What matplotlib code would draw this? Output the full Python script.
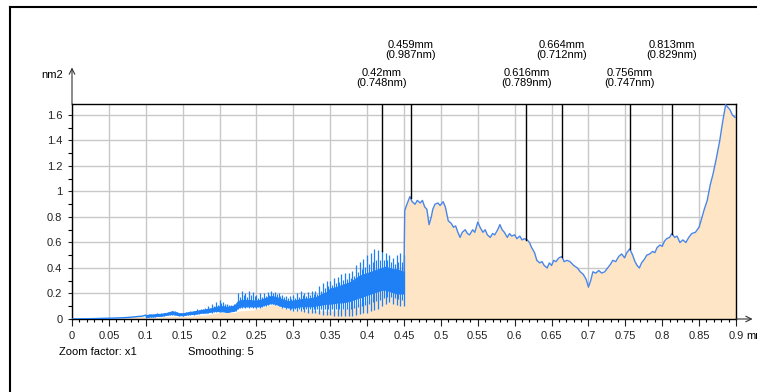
# -*- coding: utf-8 -*-
import numpy as np
import matplotlib
matplotlib.use("Agg")
import matplotlib.pyplot as plt
from matplotlib.lines import Line2D
from matplotlib.ticker import MultipleLocator, FuncFormatter

plt.rcParams['font.family'] = ['Liberation Sans', 'DejaVu Sans']
fs = 8

# ---- data ----
# left, quiet part of the profile
x_left = [0.0, 0.01, 0.02, 0.03, 0.04, 0.05, 0.06, 0.07, 0.08, 0.09, 0.095]
y_left = [0.0, 0.001, 0.002, 0.003, 0.005, 0.006, 0.008, 0.01, 0.014, 0.02, 0.022]

# noisy part 0.10 .. 0.45, one row every 0.005
x_noise = np.round(np.arange(0.100, 0.4501, 0.005), 3)
core_lo = [0.015, 0.02, 0.02, 0.025, 0.025, 0.03, 0.035, 0.04, 0.035, 0.03,
           0.03, 0.035, 0.04, 0.04, 0.045, 0.05, 0.05, 0.055, 0.06, 0.065,
           0.06, 0.06, 0.055, 0.06, 0.065, 0.09, 0.1, 0.1, 0.1, 0.1,
           0.1, 0.1, 0.11, 0.12, 0.125, 0.12, 0.11, 0.1, 0.095, 0.09,
           0.09, 0.095, 0.1, 0.1, 0.1, 0.1, 0.105, 0.11, 0.115, 0.12,
           0.12, 0.125, 0.13, 0.13, 0.135, 0.14, 0.15, 0.16, 0.17, 0.18,
           0.19, 0.2, 0.21, 0.22, 0.23, 0.23, 0.22, 0.21, 0.2, 0.2, 0.2]
core_hi = [0.03, 0.035, 0.035, 0.04, 0.04, 0.045, 0.05, 0.06, 0.055, 0.045,
           0.045, 0.05, 0.055, 0.06, 0.065, 0.07, 0.075, 0.08, 0.085, 0.095,
           0.1, 0.1, 0.095, 0.1, 0.105, 0.14, 0.15, 0.15, 0.15, 0.145,
           0.145, 0.15, 0.16, 0.17, 0.18, 0.175, 0.165, 0.155, 0.145, 0.14,
           0.145, 0.15, 0.155, 0.16, 0.16, 0.165, 0.17, 0.185, 0.2, 0.21,
           0.24, 0.245, 0.255, 0.265, 0.275, 0.285, 0.3, 0.32, 0.34, 0.35,
           0.36, 0.37, 0.38, 0.39, 0.4, 0.41, 0.4, 0.39, 0.39, 0.38, 0.37]
spike_lo = [0.01, 0.015, 0.015, 0.02, 0.02, 0.025, 0.03, 0.035, 0.03, 0.025,
            0.025, 0.03, 0.035, 0.035, 0.04, 0.045, 0.045, 0.05, 0.05, 0.055,
            0.06, 0.06, 0.055, 0.06, 0.065, 0.08, 0.09, 0.09, 0.09, 0.09,
            0.09, 0.09, 0.1, 0.11, 0.115, 0.11, 0.1, 0.09, 0.08, 0.07,
            0.06, 0.06, 0.06, 0.055, 0.05, 0.05, 0.045, 0.04, 0.035, 0.03,
            0.03, 0.025, 0.02, 0.02, 0.02, 0.02, 0.025, 0.03, 0.04, 0.045,
            0.05, 0.06, 0.07, 0.08, 0.1, 0.12, 0.13, 0.12, 0.11, 0.1, 0.1]
spike_hi = [0.035, 0.04, 0.04, 0.045, 0.045, 0.05, 0.055, 0.065, 0.06, 0.05,
            0.05, 0.055, 0.06, 0.065, 0.075, 0.08, 0.085, 0.1, 0.12, 0.13,
            0.15, 0.13, 0.12, 0.11, 0.12, 0.2, 0.22, 0.2, 0.22, 0.21,
            0.19, 0.2, 0.2, 0.21, 0.22, 0.21, 0.2, 0.19, 0.18, 0.18,
            0.19, 0.2, 0.22, 0.2, 0.21, 0.22, 0.22, 0.26, 0.28, 0.3,
            0.3, 0.32, 0.33, 0.35, 0.36, 0.36, 0.38, 0.42, 0.45, 0.47,
            0.5, 0.52, 0.55, 0.54, 0.53, 0.52, 0.5, 0.48, 0.5, 0.52, 0.5]
fill_noise = [0.01, 0.012, 0.012, 0.015, 0.015, 0.018, 0.02, 0.022, 0.02, 0.018,
              0.018, 0.02, 0.022, 0.025, 0.028, 0.03, 0.03, 0.035, 0.04, 0.045,
              0.05, 0.05, 0.05, 0.05, 0.05, 0.06, 0.065, 0.065, 0.07, 0.07,
              0.075, 0.085, 0.095, 0.105, 0.115, 0.11, 0.1, 0.09, 0.08, 0.075,
              0.07, 0.07, 0.07, 0.07, 0.07, 0.07, 0.065, 0.065, 0.065, 0.06,
              0.06, 0.065, 0.07, 0.075, 0.08, 0.09, 0.1, 0.11, 0.12, 0.13,
              0.14, 0.16, 0.2, 0.25, 0.3, 0.33, 0.32, 0.27, 0.22, 0.18, 0.15]

# right part after the step at 0.45
x_right = [0.451, 0.454, 0.458, 0.461, 0.465, 0.468, 0.472, 0.475, 0.478, 0.481,
           0.484, 0.487, 0.489, 0.492, 0.496, 0.499, 0.503, 0.506, 0.510, 0.514,
           0.517, 0.520, 0.523, 0.526, 0.529, 0.533, 0.536, 0.539, 0.543, 0.546,
           0.550, 0.553, 0.557, 0.560, 0.563, 0.567, 0.570, 0.573, 0.577, 0.580,
           0.583, 0.586, 0.590, 0.593, 0.596, 0.600, 0.603, 0.607, 0.610, 0.613,
           0.617, 0.620, 0.623, 0.627, 0.630, 0.634, 0.637, 0.640, 0.644, 0.647,
           0.650, 0.653, 0.656, 0.660, 0.664, 0.667, 0.671, 0.675, 0.680, 0.685,
           0.689, 0.693, 0.697, 0.700, 0.703, 0.706, 0.710, 0.714, 0.718, 0.722,
           0.726, 0.730, 0.733, 0.737, 0.741, 0.745, 0.749, 0.752, 0.756, 0.760,
           0.763, 0.766, 0.769, 0.772, 0.776, 0.779, 0.783, 0.787, 0.790, 0.793,
           0.797, 0.800, 0.803, 0.806, 0.810, 0.813, 0.817, 0.820, 0.824, 0.828,
           0.832, 0.836, 0.840, 0.845, 0.850, 0.853, 0.857, 0.861, 0.865, 0.869,
           0.873, 0.878, 0.882, 0.886, 0.889, 0.892, 0.895, 0.899, 0.900]
y_right = [0.85, 0.90, 0.96, 0.92, 0.90, 0.93, 0.91, 0.93, 0.88, 0.86,
           0.74, 0.80, 0.86, 0.90, 0.91, 0.89, 0.92, 0.88, 0.77, 0.75,
           0.72, 0.73, 0.68, 0.64, 0.68, 0.70, 0.67, 0.66, 0.70, 0.68,
           0.76, 0.72, 0.68, 0.70, 0.66, 0.64, 0.67, 0.66, 0.70, 0.74,
           0.70, 0.68, 0.64, 0.67, 0.65, 0.66, 0.63, 0.65, 0.62, 0.63,
           0.62, 0.60, 0.56, 0.52, 0.46, 0.44, 0.45, 0.42, 0.40, 0.44,
           0.42, 0.46, 0.45, 0.48, 0.49, 0.45, 0.46, 0.45, 0.42, 0.40,
           0.37, 0.35, 0.31, 0.25, 0.30, 0.37, 0.36, 0.38, 0.36, 0.37,
           0.40, 0.43, 0.46, 0.45, 0.49, 0.51, 0.48, 0.52, 0.55, 0.50,
           0.45, 0.42, 0.40, 0.44, 0.47, 0.50, 0.51, 0.53, 0.52, 0.56,
           0.58, 0.57, 0.61, 0.63, 0.64, 0.67, 0.64, 0.65, 0.60, 0.62,
           0.60, 0.64, 0.67, 0.68, 0.72, 0.78, 0.86, 0.93, 1.05, 1.14,
           1.25, 1.40, 1.55, 1.68, 1.66, 1.64, 1.60, 1.58, 1.58]

# cursor markers
mark_mm = [0.42, 0.459, 0.616, 0.664, 0.756, 0.813]
mark_nm = ['0.748', '0.987', '0.789', '0.712', '0.747', '0.829']
mark_high = [False, True, False, True, False, True]

# ---- drawing ----
fig = plt.figure(figsize=(7.57, 3.92), dpi=100)
ax = fig.add_axes([72 / 757, 1 - 319 / 392, 664 / 757, 215 / 392])
ax.set_xlim(0, 0.9)
ax.set_ylim(0, 1.686)

fill_x = np.concatenate([x_left, x_noise, x_right])
fill_y = np.concatenate([y_left, fill_noise, y_right])
ax.fill_between(fill_x, 0, fill_y, color='#fde5c5', lw=0, zorder=2)

blue = '#1f80f5'
ax.plot(np.concatenate([x_left, x_noise[:1]]), np.concatenate([y_left, core_hi[:1]]),
        color=blue, lw=1, zorder=3)
ax.fill_between(x_noise, core_lo, core_hi, color=blue, lw=0.8, edgecolor=blue, zorder=3)
ax.vlines(x_noise, spike_lo, spike_hi, color=blue, lw=0.9, zorder=3)
ax.vlines(x_noise[:-1] + 0.0025,
          (np.array(core_lo[:-1]) + np.array(spike_lo[:-1])) / 2,
          (np.array(core_hi[:-1]) + np.array(spike_hi[:-1])) / 2,
          color=blue, lw=0.8, zorder=3)
ax.plot(np.concatenate([[x_noise[-1]], x_right]),
        np.concatenate([[core_hi[-1]], y_right]),
        color='#4a86e8', lw=1, zorder=3)

# cursor lines and their labels
top_x = np.concatenate([x_left, x_noise, x_right])
top_y = np.concatenate([y_left, spike_hi, y_right])
for mm, nm, high in zip(mark_mm, mark_nm, mark_high):
    ybot = np.interp(mm, top_x, top_y)
    ax.plot([mm, mm], [ybot, 1.686], color='black', lw=1, zorder=4)
    ax.text(mm, 2.03 if high else 1.81, f'{mm:g}mm\n({nm}nm)', ha='center',
            va='bottom', fontsize=fs, linespacing=1.0, clip_on=False)

# grid, ticks, spines
ax.xaxis.set_major_locator(MultipleLocator(0.05))
ax.xaxis.set_minor_locator(MultipleLocator(0.01))
ax.yaxis.set_major_locator(MultipleLocator(0.2))
ax.yaxis.set_minor_locator(MultipleLocator(0.1))
fmt = FuncFormatter(lambda v, p: f'{round(v, 3):g}')
ax.xaxis.set_major_formatter(fmt)
ax.yaxis.set_major_formatter(fmt)
ax.grid(True, which='major', color='#c8c8c8', lw=1, zorder=0)
ax.set_axisbelow(True)
ax.tick_params(axis='x', which='major', length=5, width=0.8, pad=3.5, labelsize=fs, colors='#222222')
ax.tick_params(axis='x', which='minor', length=2.5, width=0.8)
ax.tick_params(axis='y', which='major', length=3, width=0.8, pad=4, labelsize=fs, colors='#222222')
ax.tick_params(axis='y', which='minor', length=3, width=0.8)
for s in ax.spines.values():
    s.set_color('black')
    s.set_linewidth(1)

# axis arrows and units
ax.annotate('', xy=(0, 1.17), xytext=(0, 1.0), xycoords='axes fraction',
            arrowprops=dict(arrowstyle='->', lw=0.8, color='#333333', shrinkA=0, shrinkB=0))
ax.annotate('', xy=(1.025, 0), xytext=(1.0, 0), xycoords='axes fraction',
            arrowprops=dict(arrowstyle='->', lw=0.8, color='#333333', shrinkA=0, shrinkB=0))
ax.text(-0.014, 1.135, 'nm2', transform=ax.transAxes, ha='right', va='center', fontsize=fs)
ax.text(1.015, -0.08, 'mm', transform=ax.transAxes, ha='left', va='center', fontsize=fs)

fig.text(59 / 757, 1 - 352 / 392, 'Zoom factor: x1', ha='left', va='center', fontsize=fs)
fig.text(188 / 757, 1 - 352 / 392, 'Smoothing: 5', ha='left', va='center', fontsize=fs)

# outer frame
fig.add_artist(Line2D([10 / 757, 1], [1 - 7 / 392] * 2, color='black', lw=1.5))
fig.add_artist(Line2D([10 / 757] * 2, [0, 1 - 7 / 392], color='black', lw=1.5))

fig.savefig('out.png', dpi=100)
